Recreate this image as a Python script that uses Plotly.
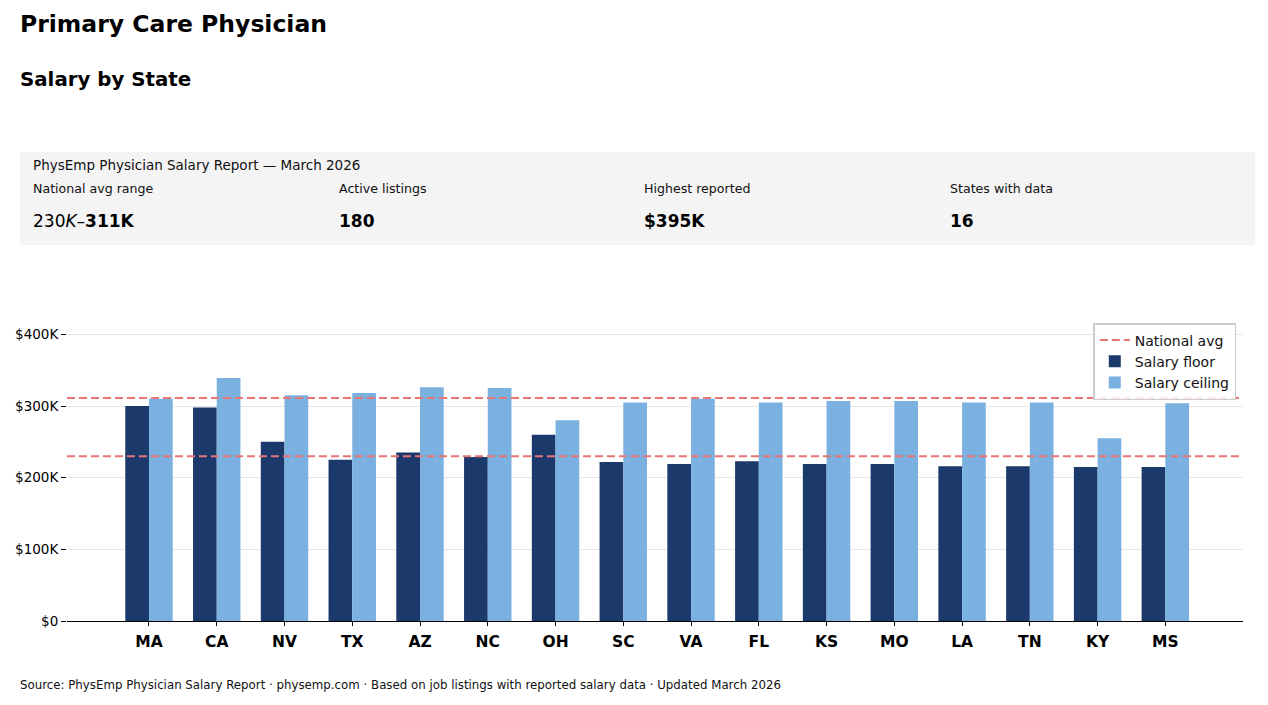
import plotly.graph_objects as go

states = ["MA", "CA", "NV", "TX", "AZ", "NC", "OH", "SC", "VA", "FL", "KS", "MO", "LA", "TN", "KY", "MS"]
salary_floor = [300, 298, 250, 225, 235, 229, 260, 222, 219, 223, 219, 219, 216, 216, 215, 215]
salary_ceiling = [310, 339, 315, 318, 326, 325, 280, 305, 310, 305, 307, 307, 305, 305, 255, 304]
national_avg = [230, 311]
y_ticks = [0, 100, 200, 300, 400]
y_tick_labels = ["$0", "$100K", "$200K", "$300K", "$400K"]

stat_labels = ["National avg range", "Active listings", "Highest reported", "States with data"]
stat_values = ["230<i>K</i>–<b>311K</b>", "<b>180</b>", "<b>$395K</b>", "<b>16</b>"]

FONT = "DejaVu Sans"
OFF = 8  # page body margin of the browser
W, H = 1268 - 2 * OFF, 705 - 2 * OFF
# plot-area edges in reference (window) pixels
L, R, T, B = 67, 1242.7, 320, 621
X0, X1 = -1.21, 16.146


def px(x):
    return (x - L) / (R - L)


def py(y):
    return (B - y) / (B - T)


x_idx = list(range(len(states)))
fl = [v * 1000 for v in salary_floor]
ce = [v * 1000 for v in salary_ceiling]

fig = go.Figure()

line_x, line_y = [], []
for v in national_avg:
    line_x += [X0, X1, None]
    line_y += [v * 1000, v * 1000, None]
fig.add_trace(go.Scatter(
    x=line_x, y=line_y, mode="lines", name="National avg",
    line=dict(color="#e87474", width=2, dash="8px,4px"),
    hoverinfo="skip", cliponaxis=False,
))
fig.add_trace(go.Bar(
    x=x_idx, y=fl, name="Salary floor", marker=dict(color="#1b3a6b", line=dict(width=0)),
    offset=-0.35, width=0.35,
))
fig.add_trace(go.Bar(
    x=x_idx, y=ce, name="Salary ceiling", marker=dict(color="#7bb1e0", line=dict(width=0)),
    offset=0.0, width=0.35,
))

shapes = [dict(type="rect", xref="paper", yref="paper",
               x0=px(20), x1=px(1255), y0=py(245), y1=py(152),
               fillcolor="#f4f4f4", line=dict(width=0), layer="below")]

ann = []
ann.append(dict(text="<b>Primary Care Physician</b>", x=px(18), y=py(24), xref="paper", yref="paper",
                xanchor="left", yanchor="middle", showarrow=False,
                font=dict(family=FONT, size=23.5, color="#000")))
ann.append(dict(text="<b>Salary by State</b>", x=px(18), y=py(79), xref="paper", yref="paper",
                xanchor="left", yanchor="middle", showarrow=False,
                font=dict(family=FONT, size=19.8, color="#000")))
ann.append(dict(text="PhysEmp Physician Salary Report — March 2026", x=px(31), y=py(165), xref="paper", yref="paper",
                xanchor="left", yanchor="middle", showarrow=False,
                font=dict(family=FONT, size=13.5, color="#111")))
cols = [31, 337, 642, 948]
for cx, lab, val in zip(cols, stat_labels, stat_values):
    ann.append(dict(text=lab, x=px(cx), y=py(188), xref="paper", yref="paper",
                    xanchor="left", yanchor="middle", showarrow=False,
                    font=dict(family=FONT, size=12.6, color="#111")))
    ann.append(dict(text=val, x=px(cx), y=py(221), xref="paper", yref="paper",
                    xanchor="left", yanchor="middle", showarrow=False,
                    font=dict(family=FONT, size=17, color="#000")))
ann.append(dict(text="Source: PhysEmp Physician Salary Report · physemp.com · Based on job listings with reported salary data · Updated March 2026",
                x=px(18), y=py(685), xref="paper", yref="paper",
                xanchor="left", yanchor="middle", showarrow=False,
                font=dict(family=FONT, size=11.8, color="#111")))

fig.update_layout(
    width=W, height=H,
    margin=dict(l=L - OFF, r=W - (R - OFF), t=T - OFF, b=H - (B - OFF), pad=0, autoexpand=False),
    paper_bgcolor="white", plot_bgcolor="white",
    font=dict(family=FONT, color="#000"),
    barmode="overlay",
    shapes=shapes, annotations=ann,
    legend=dict(x=px(1236), y=py(323), xanchor="right", yanchor="top",
                bgcolor="rgba(255,255,255,0.85)", bordercolor="#cccccc", borderwidth=1.5,
                font=dict(family=FONT, size=14, color="#111"), traceorder="normal",
                tracegroupgap=0),
    xaxis=dict(range=[X0, X1], tickvals=x_idx, ticktext=[f"<b>{s}</b>" for s in states],
               tickfont=dict(family=FONT, size=15.5, color="#000"), automargin=False,
               ticklabelstandoff=2,
               showgrid=False, zeroline=False, showline=True, linecolor="#000", linewidth=1.2,
               ticks="outside", ticklen=4, tickcolor="#000", tickwidth=1),
    yaxis=dict(range=[0, 420000], tickvals=[v * 1000 for v in y_ticks], ticktext=y_tick_labels,
               tickfont=dict(family=FONT, size=13.5, color="#000"), automargin=False,
               showgrid=True, gridcolor="#e6e6e6", gridwidth=1, zeroline=False, showline=False,
               ticks="outside", ticklen=5, tickcolor="#000", tickwidth=1),
)

fig.write_html("out.html")
